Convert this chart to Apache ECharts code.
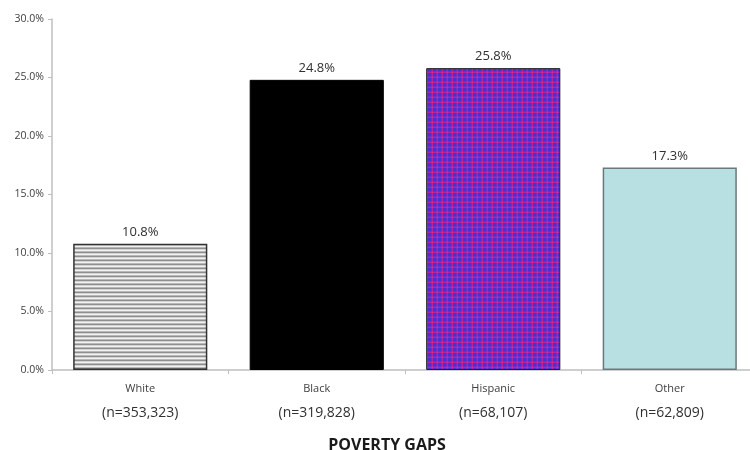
<!DOCTYPE html>
<html><head><meta charset="utf-8">
<script src="https://cdn.jsdelivr.net/npm/echarts@6/dist/echarts.min.js"></script>
<style>html,body{margin:0;padding:0;background:#fff}#c{width:750px;height:450px}</style>
</head><body><div id="c"></div>
<script>
const categories = ['White', 'Black', 'Hispanic', 'Other'];
const sampleSizes = ['(n=353,323)', '(n=319,828)', '(n=68,107)', '(n=62,809)'];
const values = [10.8, 24.8, 25.8, 17.3];
const yTicks = [0, 5, 10, 15, 20, 25, 30];
const xTitle = 'POVERTY GAPS';

function stripeCanvas() {
  const c = document.createElement('canvas'); c.width = 4; c.height = 4;
  const g = c.getContext('2d');
  const rows = ['#8e8e8e', '#d4d4d4', '#f2f2f2', '#b8b8b8'];
  rows.forEach((col, i) => { g.fillStyle = col; g.fillRect(0, i, 4, 1); });
  return c;
}
function plaidCanvas() {
  const c = document.createElement('canvas'); c.width = 5; c.height = 5;
  const g = c.getContext('2d');
  g.fillStyle = '#4a30d0'; g.fillRect(0, 0, 5, 5);
  g.fillStyle = 'rgba(220,30,140,0.75)';
  g.fillRect(0, 2, 5, 1); g.fillRect(2, 0, 1, 5);
  g.fillStyle = '#e02a8c'; g.fillRect(2, 2, 1, 1);
  g.fillStyle = 'rgba(200,40,160,0.35)';
  g.fillRect(0, 1, 5, 1); g.fillRect(1, 0, 1, 5);
  return c;
}
const styles = [
  { color: { image: stripeCanvas(), repeat: 'repeat' }, borderColor: '#333', borderWidth: 1.5 },
  { color: '#000000', borderColor: '#000', borderWidth: 1 },
  { color: { image: plaidCanvas(), repeat: 'repeat' }, borderColor: '#222', borderWidth: 1 },
  { color: '#b8e0e2', borderColor: '#6a7a7c', borderWidth: 1.5 }
];

const chart = echarts.init(document.getElementById('c'), null, { renderer: 'canvas' });
chart.setOption({
  animation: false,
  grid: { left: 52, top: 19, right: -8, height: 351, containLabel: false, outerBoundsMode: 'none' },
  xAxis: {
    type: 'category',
    data: categories,
    axisLine: { lineStyle: { color: '#bfbfbf', width: 1.5 } },
    axisTick: { show: true, length: 4, lineStyle: { color: '#bfbfbf' } },
    axisLabel: {
      interval: 0,
      margin: 10,
      formatter: function (v, i) { return '{a|' + v + '}\n{b|' + sampleSizes[i] + '}'; },
      rich: {
        a: { fontFamily: 'Open Sans', fontSize: 11, color: '#404040', lineHeight: 16, padding: [2, 0, 0, 0] },
        b: { fontFamily: 'Open Sans', fontSize: 14, color: '#303030', lineHeight: 20, padding: [14, 0, 0, 0] }
      }
    },
    name: xTitle,
    nameLocation: 'middle',
    nameGap: 67,
    nameTextStyle: { fontFamily: 'Open Sans', fontWeight: 'bold', fontSize: 16, color: '#1a1a1a',
      padding: [0, 36, 0, 0] }
  },
  yAxis: {
    type: 'value',
    min: yTicks[0], max: yTicks[yTicks.length - 1], interval: 5,
    axisLine: { show: true, lineStyle: { color: '#bfbfbf', width: 1.5 } },
    axisTick: { show: true, length: 4, lineStyle: { color: '#bfbfbf' } },
    splitLine: { show: false },
    axisLabel: { formatter: v => v.toFixed(1) + '%', fontFamily: 'Open Sans', fontSize: 10.5, color: '#404040', margin: 8 }
  },
  series: [{
    type: 'bar',
    barWidth: '76%',
    data: values.map((v, i) => ({ value: v, itemStyle: styles[i] })),
    label: {
      show: true, position: 'top', distance: 5,
      formatter: p => p.value.toFixed(1) + '%',
      fontFamily: 'Open Sans', fontSize: 13, color: '#303030'
    }
  }]
});
</script></body></html>
